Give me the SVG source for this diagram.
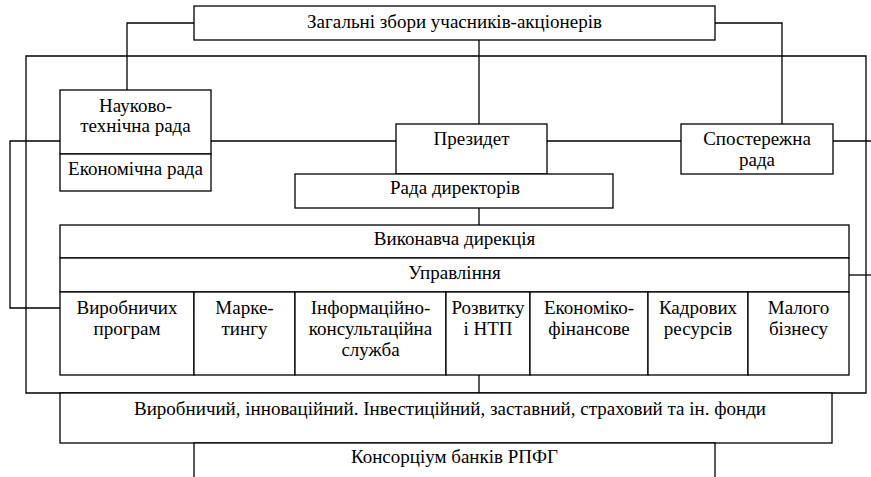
<svg xmlns="http://www.w3.org/2000/svg" width="871" height="477" viewBox="0 0 871 477">
<style>
.b{fill:#fff;stroke:#000;stroke-width:1.3}
.l{fill:none;stroke:#000;stroke-width:1.3}
.t{font-family:'Liberation Serif','Times New Roman',serif;font-size:19px;fill:#000;text-anchor:middle}
</style>
<rect width="871" height="477" fill="#fff"/>
<g id="connectors">
<path class="l" d="M26,56 H866 V393 H26 Z"/>
<path class="l" d="M194,23 H127 V90"/>
<path class="l" d="M715,23 H782 V124"/>
<path class="l" d="M479,40 V124"/>
<path class="l" d="M211,141 H396"/>
<path class="l" d="M547,141 H681"/>
<path class="l" d="M833,141 H871"/>
<path class="l" d="M849,275 H871"/>
<path class="l" d="M60,141 H10 V308 H60"/>
<path class="l" d="M479,208 V225"/>
<path class="l" d="M479,375 V393"/>
</g>
<g class="t" font-family="Liberation Serif" font-size="19">
<g id="zagalni">
<rect class="b" x="194" y="6" width="521" height="34"/>
<text x="454.5" y="28">Загальні збори учасників-акціонерів</text>
</g>
<g id="naukovo">
<rect class="b" x="60" y="90" width="151" height="64"/>
<text x="135.5" y="112">Науково-</text>
<text x="135.5" y="132">технічна рада</text>
</g>
<g id="ekonomichna">
<rect class="b" x="60" y="154" width="151" height="37"/>
<text x="135.5" y="175">Економічна рада</text>
</g>
<g id="prezydent">
<rect class="b" x="396" y="124" width="151" height="50"/>
<text x="471.5" y="145">Президет</text>
</g>
<g id="sposterezhna">
<rect class="b" x="681" y="124" width="152" height="50"/>
<text x="757" y="145">Спостережна</text>
<text x="757" y="166">рада</text>
</g>
<g id="rada-dyrektoriv">
<rect class="b" x="295" y="174" width="318" height="34"/>
<text x="455" y="194">Рада директорів</text>
</g>
<g id="vykonavcha">
<rect class="b" x="60" y="225" width="789" height="33"/>
<text x="454.5" y="245">Виконавча дирекція</text>
</g>
<g id="upravlinnia">
<rect class="b" x="60" y="258" width="789" height="34"/>
<text x="454.5" y="279">Управління</text>
</g>
<g id="d1">
<rect class="b" x="60" y="292" width="134" height="83"/>
<text x="127" y="314">Виробничих</text>
<text x="127" y="335">програм</text>
</g>
<g id="d2">
<rect class="b" x="194" y="292" width="101" height="83"/>
<text x="244.5" y="314">Марке-</text>
<text x="244.5" y="335">тингу</text>
</g>
<g id="d3">
<rect class="b" x="295" y="292" width="151" height="83"/>
<text x="370.5" y="314">Інформаційно-</text>
<text x="370.5" y="335">консультаційна</text>
<text x="370.5" y="356">служба</text>
</g>
<g id="d4">
<rect class="b" x="446" y="292" width="84" height="83"/>
<text x="488" y="314">Розвитку</text>
<text x="488" y="335">і НТП</text>
</g>
<g id="d5">
<rect class="b" x="530" y="292" width="118" height="83"/>
<text x="589" y="314">Економіко-</text>
<text x="589" y="335">фінансове</text>
</g>
<g id="d6">
<rect class="b" x="648" y="292" width="100" height="83"/>
<text x="698" y="314">Кадрових</text>
<text x="698" y="335">ресурсів</text>
</g>
<g id="d7">
<rect class="b" x="748" y="292" width="101" height="83"/>
<text x="798.5" y="314">Малого</text>
<text x="798.5" y="335">бізнесу</text>
</g>
<g id="fondy">
<rect class="b" x="60" y="393" width="772" height="50"/>
<text x="450" y="415">Виробничий, інноваційний. Інвестиційний, заставний, страховий та ін. фонди</text>
</g>
<g id="konsortsium">
<rect class="b" x="194" y="443" width="521" height="40"/>
<text x="454.5" y="463">Консорціум банків РПФГ</text>
</g>
</g>
</svg>
